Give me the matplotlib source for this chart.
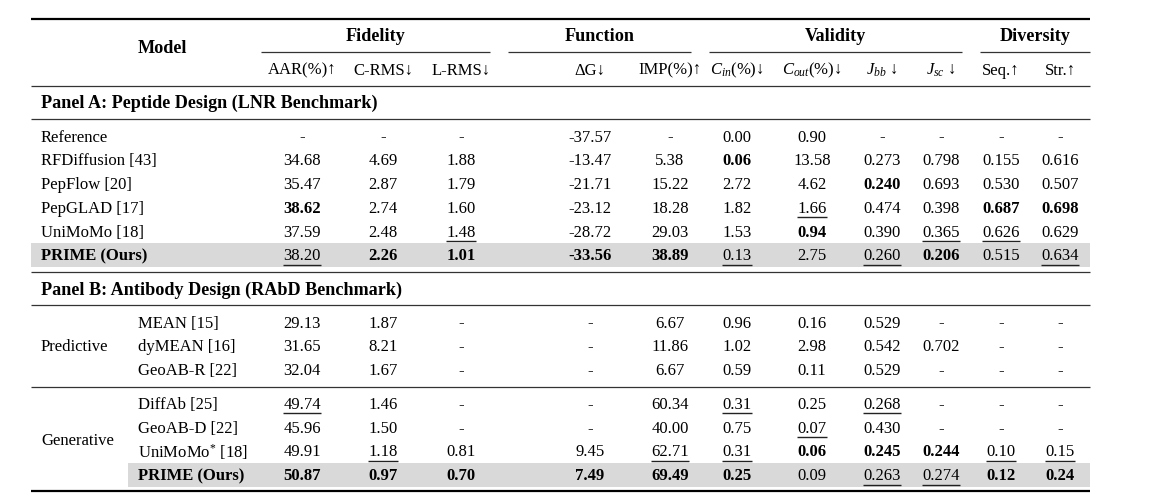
import matplotlib
matplotlib.use("Agg")
import matplotlib.pyplot as plt

plt.rcParams['font.family'] = ['Liberation Serif', 'DejaVu Serif']
plt.rcParams['mathtext.fontset'] = 'custom'
plt.rcParams['mathtext.rm'] = 'Liberation Serif'
plt.rcParams['mathtext.it'] = 'Liberation Serif:italic'
plt.rcParams['mathtext.bf'] = 'Liberation Serif:bold'

# ---------------- data ----------------
groups = ["Fidelity", "Function", "Validity", "Diversity"]
group_cols = [(0, 2), (3, 4), (5, 8), (9, 10)]
columns = ["AAR(%)↑", "C-RMS↓", "L-RMS↓", "ΔG↓", "IMP(%)↑",
           r"$C_{in}$(%)↓", r"$C_{out}$(%)↓", r"$J_{bb}$ ↓", r"$J_{sc}$ ↓",
           "Seq.↑", "Str.↑"]

panel_a_title = "Panel A: Peptide Design (LNR Benchmark)"
panel_a_models = ["Reference", "RFDiffusion [43]", "PepFlow [20]", "PepGLAD [17]",
                  "UniMoMo [18]", "PRIME (Ours)"]
panel_a_values = [
    ["-", "-", "-", "-37.57", "-", "0.00", "0.90", "-", "-", "-", "-"],
    ["34.68", "4.69", "1.88", "-13.47", "5.38", "0.06", "13.58", "0.273", "0.798", "0.155", "0.616"],
    ["35.47", "2.87", "1.79", "-21.71", "15.22", "2.72", "4.62", "0.240", "0.693", "0.530", "0.507"],
    ["38.62", "2.74", "1.60", "-23.12", "18.28", "1.82", "1.66", "0.474", "0.398", "0.687", "0.698"],
    ["37.59", "2.48", "1.48", "-28.72", "29.03", "1.53", "0.94", "0.390", "0.365", "0.626", "0.629"],
    ["38.20", "2.26", "1.01", "-33.56", "38.89", "0.13", "2.75", "0.260", "0.206", "0.515", "0.634"],
]
# b = bold (best), u = underline (second best)
panel_a_style = [
    ["", "", "", "", "", "", "", "", "", "", ""],
    ["", "", "", "", "", "b", "", "", "", "", ""],
    ["", "", "", "", "", "", "", "b", "", "", ""],
    ["b", "", "", "", "", "", "u", "", "", "b", "b"],
    ["", "", "u", "", "", "", "b", "", "u", "u", ""],
    ["u", "b", "b", "b", "b", "u", "", "u", "b", "", "u"],
]

panel_b_title = "Panel B: Antibody Design (RAbD Benchmark)"
panel_b_groups = ["Predictive", "Generative"]
panel_b_group_sizes = [3, 4]
panel_b_models = ["MEAN [15]", "dyMEAN [16]", "GeoAB-R [22]",
                  "DiffAb [25]", "GeoAB-D [22]", r"UniMoMo$^{*}$ [18]", "PRIME (Ours)"]
panel_b_values = [
    ["29.13", "1.87", "-", "-", "6.67", "0.96", "0.16", "0.529", "-", "-", "-"],
    ["31.65", "8.21", "-", "-", "11.86", "1.02", "2.98", "0.542", "0.702", "-", "-"],
    ["32.04", "1.67", "-", "-", "6.67", "0.59", "0.11", "0.529", "-", "-", "-"],
    ["49.74", "1.46", "-", "-", "60.34", "0.31", "0.25", "0.268", "-", "-", "-"],
    ["45.96", "1.50", "-", "-", "40.00", "0.75", "0.07", "0.430", "-", "-", "-"],
    ["49.91", "1.18", "0.81", "9.45", "62.71", "0.31", "0.06", "0.245", "0.244", "0.10", "0.15"],
    ["50.87", "0.97", "0.70", "7.49", "69.49", "0.25", "0.09", "0.263", "0.274", "0.12", "0.24"],
]
panel_b_style = [
    ["", "", "", "", "", "", "", "", "", "", ""],
    ["", "", "", "", "", "", "", "", "", "", ""],
    ["", "", "", "", "", "", "", "", "", "", ""],
    ["u", "", "", "", "", "u", "", "u", "", "", ""],
    ["", "", "", "", "", "", "u", "", "", "", ""],
    ["", "u", "", "", "u", "u", "b", "b", "b", "u", "u"],
    ["b", "b", "b", "b", "b", "b", "", "u", "u", "b", "b"],
]

# ---------------- layout ----------------
W, H = 1162, 499
fig = plt.figure(figsize=(W / 100, H / 100), dpi=100)
ax = fig.add_axes([0, 0, 1, 1])
ax.set_xlim(0, W)
ax.set_ylim(H, 0)
ax.axis('off')

XL, XR = 31, 1090
col_x = [302, 383, 461, 590, 670, 737, 812, 882, 941, 1001, 1060]
group_rule_x = [(261, 490), (508, 691), (709, 962), (980, 1090)]
name_x = 41
name_x_b = 138
FS = 12.0
FS_H = 13.1
GRAY = '#d9d9d9'
ROW = 23.8
DY = 1.5  # visual baseline correction for va='center'

def hline(y, x0=XL, x1=XR, lw=0.9, c='#333333'):
    ax.plot([x0, x1], [y, y], color=c, lw=lw, solid_capstyle='butt')

underlined = []

def cell(x, y, s, style, ha='center', fs=FS):
    t = ax.text(x, y + DY, s, ha=ha, va='center', fontsize=fs,
                fontweight='bold' if 'b' in style else 'normal', color='black')
    if 'u' in style:
        underlined.append(t)
    return t

# header
hline(19, lw=1.6, c='black')
cell(162, 47, "Model", 'b', fs=FS_H)
for g, (c0, c1), (rx0, rx1) in zip(groups, group_cols, group_rule_x):
    cell((rx0 + rx1) / 2, 35, g, 'b', fs=FS_H)
    hline(52, rx0, rx1, lw=0.9)
for x, c in zip(col_x, columns):
    cell(x, 69, c, '')
hline(86)

# panel A
cell(name_x, 102, panel_a_title, 'b', ha='left', fs=FS_H)
hline(119)
ya0 = 136
for i, (m, vals, sty) in enumerate(zip(panel_a_models, panel_a_values, panel_a_style)):
    y = ya0 + i * ROW
    if m.startswith("PRIME"):
        ax.fill_between([XL, XR], y - ROW / 2, y + ROW / 2, color=GRAY, lw=0, zorder=0)
        cell(name_x, y, m, 'b', ha='left')
    else:
        cell(name_x, y, m, '', ha='left')
    for x, v, s in zip(col_x, vals, sty):
        cell(x, y, v, s)
hline(ya0 + (len(panel_a_models) - 1) * ROW + 17)

# panel B
cell(name_x, 289, panel_b_title, 'b', ha='left', fs=FS_H)
hline(305)
yb0 = 322
rows_y = []
k = 0
gap = 0
for gi, n in enumerate(panel_b_group_sizes):
    ys = []
    for j in range(n):
        y = yb0 + k * ROW + gap
        ys.append(y)
        rows_y.append(y)
        k += 1
    cell(name_x, (ys[0] + ys[-1]) / 2, panel_b_groups[gi], '', ha='left')
    if gi < len(panel_b_group_sizes) - 1:
        hline(ys[-1] + 17)
        gap += 10
for y, m, vals, sty in zip(rows_y, panel_b_models, panel_b_values, panel_b_style):
    if m.startswith("PRIME"):
        ax.fill_between([128, XR], y - ROW / 2, y + ROW / 2, color=GRAY, lw=0, zorder=0)
        cell(name_x_b, y, m, 'b', ha='left')
    else:
        cell(name_x_b, y, m, '', ha='left')
    for x, v, s in zip(col_x, vals, sty):
        cell(x, y, v, s)
hline(rows_y[-1] + 16, lw=1.6, c='black')

# underlines
fig.canvas.draw()
r = fig.canvas.get_renderer()
inv = ax.transData.inverted()
for t in underlined:
    bb = t.get_window_extent(r)
    (x0, y0), (x1, y1) = inv.transform([(bb.x0, bb.y0), (bb.x1, bb.y1)])
    ax.plot([x0, x1], [y0 + 0.3, y0 + 0.3], color='#222222', lw=1.0, solid_capstyle='butt')

fig.savefig("out.png", dpi=100, facecolor='white')
